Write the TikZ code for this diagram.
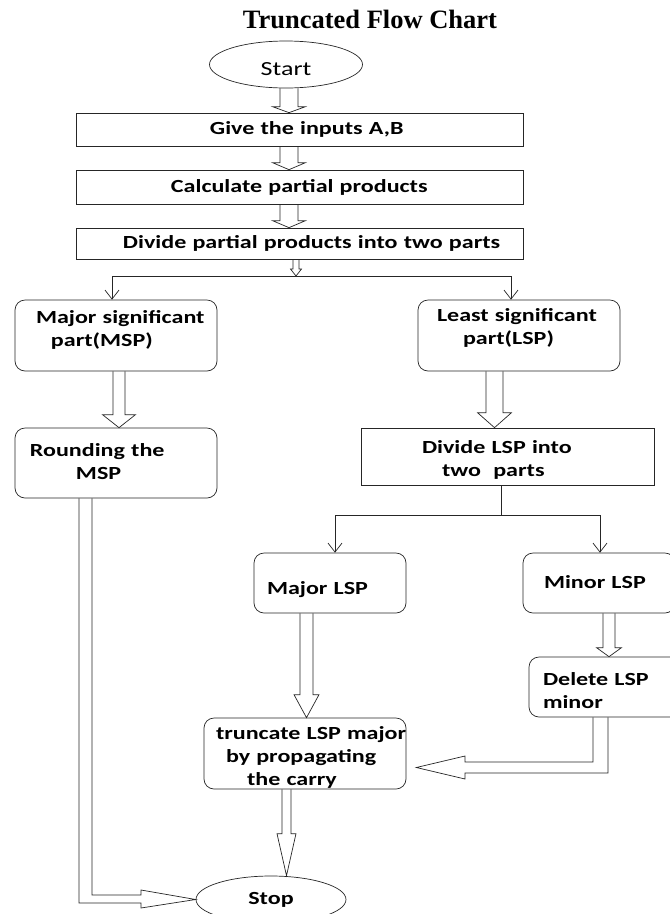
\documentclass[tikz,border=0pt]{standalone}
\usepackage{fontspec}
\newfontfamily\boxfont[FakeStretch=1.3]{Carlito}
\newfontfamily\titlefont{Liberation Serif}
\usetikzlibrary{shapes.geometric,arrows.meta,calc}

\newcommand{\blkdown}[6]{%
  \draw[blk] let \p1=(#2), \p2=(#3) in
    (#1-#4,\y1) -- (#1-#4,\y2+#6) -- (#1-#5,\y2+#6) -- (#1,\y2)
    -- (#1+#5,\y2+#6) -- (#1+#4,\y2+#6) -- (#1+#4,\y1);}

\begin{document}
\begin{tikzpicture}[x=1pt,y=-1pt,line width=0.7pt,
  box/.style={draw=black!85, rectangle, inner sep=0pt, align=left,
    font=\boxfont\bfseries\fontsize{18.5}{23}\selectfont},
  rbox/.style={box, rounded corners=10pt},
  term/.style={draw=black!85, ellipse, inner sep=0pt, minimum height=47pt},
  blk/.style={draw=black!85, line join=miter},
  feedline/.style={draw=black!85},
  feed/.style={feedline, -{Straight Barb[length=9pt,width=14pt]}}]
    \fill[white] (0,0) rectangle (670,914);
    \useasboundingbox (0,0) rectangle (670,914);
    \clip (0,0) rectangle (670,914);

    \node[anchor=base, font=\titlefont\bfseries\fontsize{26.5}{30}\selectfont] (title) at (370,28.5) {Truncated Flow Chart};

    \node[term, minimum width=153pt, text height=21pt, text depth=0pt, font=\boxfont\fontsize{20}{24}\selectfont] (start) at (286,64.5) {Start};
    \node[box, text width=447pt, minimum height=33pt] (inputs) at (299.5,129.5) {\hspace*{134pt}Give the inputs A,B};
    \node[box, text width=447pt, minimum height=34pt] (partial) at (299.5,187) {\hspace*{95pt}Calculate partial products};
    \node[box, text width=447pt, minimum height=31pt] (divide) at (299.5,243.5) {\hspace*{47pt}Divide partial products into two parts};

    \node[rbox, text width=202pt, text height=23pt, text depth=48pt] (msp) at (116,335.5) {\hspace*{21pt}Major significant\\\hspace*{36pt}part(MSP)};
    \node[rbox, text width=202pt, text height=21pt, text depth=50pt] (lsp) at (519,335.5) {\hspace*{19pt}Least significant\\\hspace*{45pt}part(LSP)};
    \node[rbox, text width=202pt, text height=28pt, text depth=42pt] (round) at (116,463) {\hspace*{15pt}Rounding the\\\hspace*{61pt}MSP};
    \node[box, text width=293pt, text height=25pt, text depth=32pt] (divlsp) at (507.5,456.5) {\hspace*{61pt}Divide LSP into\\\hspace*{81pt}two\ \ parts};

    \node[rbox, text width=152pt, text height=41pt, text depth=19pt] (majlsp) at (330,583) {\hspace*{13pt}Major LSP};
    \node[rbox, text width=152pt, text height=35pt, text depth=25pt] (minlsp) at (599,583) {\hspace*{21pt}Minor LSP};
    \node[rbox, text width=151pt, text height=28pt, text depth=32pt] (dellsp) at (604.5,687) {\hspace*{14pt}Delete LSP\\\hspace*{14pt}minor};
    \node[rbox, text width=202pt, text height=21pt, text depth=50pt] (trunc) at (305,753.5) {\hspace*{12pt}\mbox{truncate LSP major}\\\hspace*{22pt}by propagating\\\hspace*{43pt}the carry};

    \node[term, minimum width=150pt, font=\boxfont\bfseries\fontsize{18.5}{22}\selectfont] (stop) at (271,899.5) {Stop};

    \blkdown{289}{start.south}{inputs.north}{9}{16.5}{6}
    \blkdown{289}{inputs.south}{partial.north}{9}{16.5}{7}
    \blkdown{289}{partial.south}{divide.north}{9}{16.5}{7}

    \coordinate (fork) at (296,276);
    \coordinate (forkl) at (112,276);
    \coordinate (forkr) at (511,276);
    \blkdown{296}{divide.south}{fork}{3}{5.5}{7}
    \draw[feedline] (forkl) -- (forkr);
    \draw[feed] (forkl) -- (forkl |- msp.north);
    \draw[feed] (forkr) -- (forkr |- lsp.north);

    \blkdown{119}{msp.south}{round.north}{6}{16.5}{13}
    \blkdown{494.5}{lsp.south}{divlsp.north}{8.5}{17}{15}

    \coordinate (split) at (501,515);
    \coordinate (splitl) at (335,515);
    \coordinate (splitr) at (600,515);
    \draw[feedline] (split |- divlsp.south) -- (split);
    \draw[feedline] (splitl) -- (splitr);
    \draw[feed] (splitl) -- (splitl |- majlsp.north);
    \draw[feed] (splitr) -- (splitr |- minlsp.north);

    \blkdown{609}{minlsp.south}{dellsp.north}{6}{12.5}{9}
    \blkdown{306.5}{majlsp.south}{trunc.north}{6.5}{12.5}{23}
    \blkdown{286.5}{trunc.south}{stop.north}{4.5}{9.5}{42}

    \draw[blk] let \p1=(dellsp.south), \p2=(trunc.east) in
      (593pt,\y1) -- (593,762) -- (465,762) -- (465,756) -- (\x2+10pt,\y2-14pt)
      -- (465,779) -- (465,773) -- (608,773) -- (608pt,\y1);
    \draw[blk] let \p1=(round.south), \p2=(stop.west) in
      (92pt,\y1) -- (92,895) -- (141,895) -- (141,890) -- (\p2)
      -- (141,908) -- (141,903) -- (79,903) -- (79pt,\y1);
\end{tikzpicture}
\end{document}
